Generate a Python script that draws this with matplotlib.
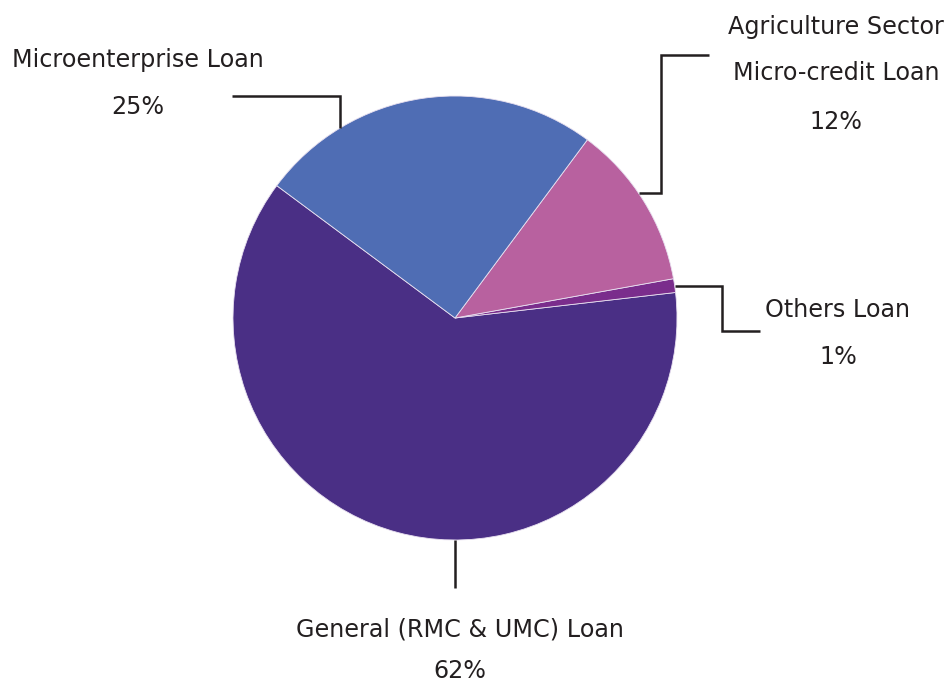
import matplotlib
matplotlib.use("Agg")
import matplotlib.pyplot as plt
import numpy as np

# Loan portfolio composition
categories = ["General (RMC & UMC) Loan", "Others Loan",
              "Agriculture Sector\nMicro-credit Loan", "Microenterprise Loan"]
shares = [62, 1, 12, 25]
pct_labels = ["62%", "1%", "12%", "25%"]
colors = ["#4a2f85", "#7a2d8c", "#b8619f", "#4f6db4"]

W, H = 948, 685
fig = plt.figure(figsize=(W / 100, H / 100), dpi=100)
ax = fig.add_axes([0, 0, 1, 1])

cx, cy, R = 455, H - 318, 222
wedges, _ = ax.pie(shares, colors=colors, startangle=143.4, counterclock=True,
                   center=(cx, cy), radius=R, frame=True,
                   wedgeprops=dict(edgecolor="#e8e0f0", linewidth=0.6))
ax.set_xlim(0, W)
ax.set_ylim(0, H)
ax.set_aspect("equal")
ax.axis("off")

font = dict(family="DejaVu Sans", fontsize=17.2, color="#231f20")


def rim(angle):
    a = np.deg2rad(angle)
    return cx + R * np.cos(a), cy + R * np.sin(a)


line_kw = dict(color="#231f20", lw=1.8, solid_capstyle="butt", solid_joinstyle="miter")

# General
x0, y0 = rim(270)
ax.plot([x0, x0], [y0, H - 588], **line_kw)
ax.text(460, H - 629, categories[0], ha="center", va="center", **font)
ax.text(460, H - 671, pct_labels[0], ha="center", va="center", **font)

# Others
x0, y0 = rim(8.2)
ax.plot([x0, 722, 722, 760], [y0, y0, H - 331, H - 331], **line_kw)
ax.text(838, H - 310, categories[1], ha="center", va="center", **font)
ax.text(838, H - 357, pct_labels[1], ha="center", va="center", **font)

# Agriculture
x0, y0 = rim(34.2)
ax.plot([x0, 661, 661, 709], [y0, y0, H - 55, H - 55], **line_kw)
lines = categories[2].split("\n")
ax.text(836, H - 27, lines[0], ha="center", va="center", **font)
ax.text(836, H - 73, lines[1], ha="center", va="center", **font)
ax.text(836, H - 122, pct_labels[2], ha="center", va="center", **font)

# Microenterprise
x0, y0 = rim(121.2)
ax.plot([x0, x0, 232], [y0, H - 96, H - 96], **line_kw)
ax.text(138, H - 60, categories[3], ha="center", va="center", **font)
ax.text(138, H - 107, pct_labels[3], ha="center", va="center", **font)

fig.savefig("out.png", dpi=100, facecolor="white")
